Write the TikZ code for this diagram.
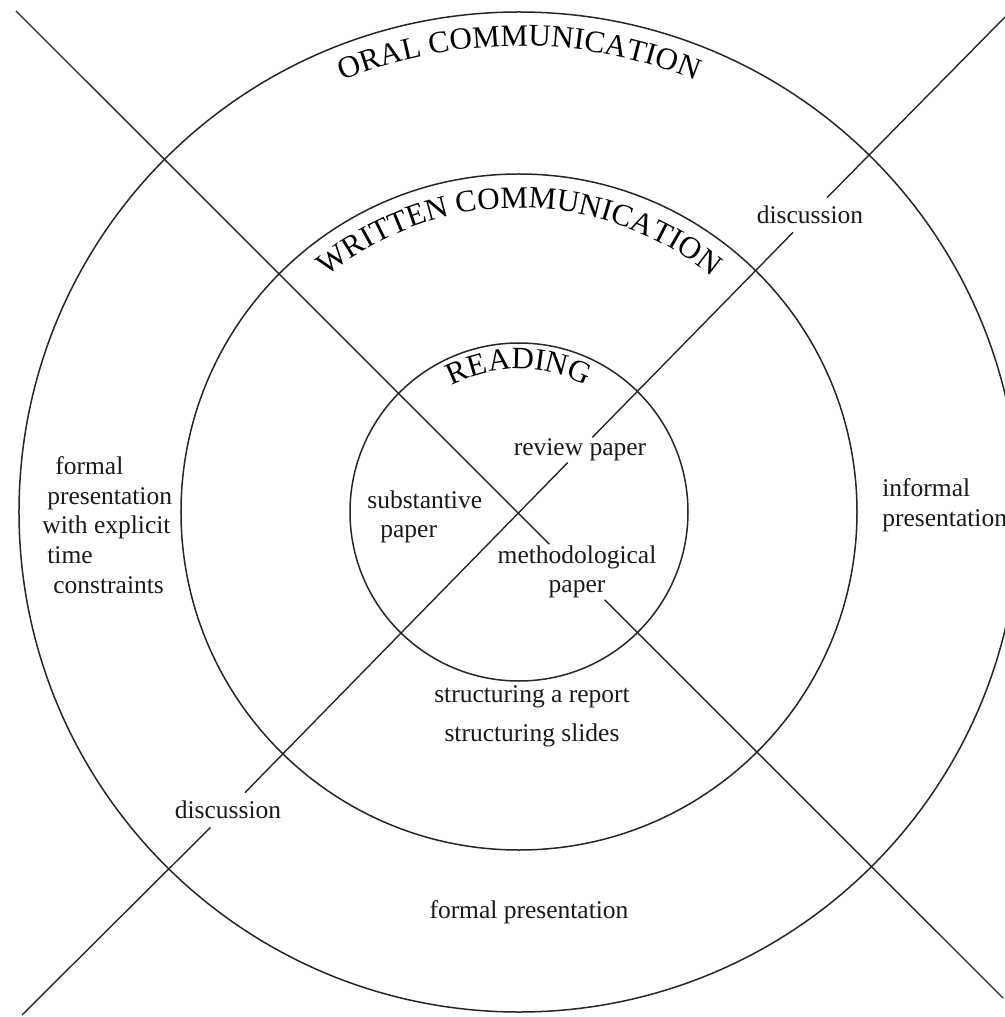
\documentclass[tikz,border=0pt]{standalone}
\usepackage{fontspec}
\setmainfont{Liberation Serif}
\usetikzlibrary{decorations.text}
\begin{document}
\begin{tikzpicture}[x=0.5pt,y=0.5pt,
  ring/.style={draw=black!85, line width=0.75pt},
  ray/.style={draw=black!85, line width=0.7pt},
  lbl/.style={font=\fontsize{12.75}{14.8}\selectfont, text=black!90},
  onray/.style={lbl, inner sep=0.5pt},
  disc/.style={lbl, inner xsep=2pt, inner ysep=4pt}
]
\useasboundingbox (-519,-505) rectangle (486,512);
\clip (-519,-505) rectangle (486,512);

% circles
\coordinate (c) at (0,0);
\draw[ring] (c) circle[radius=500];
\draw[ring] (c) circle[radius=338];
\draw[ring] (c) circle[radius=169];

% curved titles
\path[decorate, decoration={text along path, text align=center,
  text={|\fontsize{15.5}{18}\selectfont|ORAL COMMUNICATION}}]
  (150:466) arc[start angle=150, end angle=30, radius=466];
\path[decorate, decoration={text along path, text align=center,
  text={|\fontsize{15.5}{18}\selectfont|WRITTEN COMMUNICATION}}]
  (160:304) arc[start angle=160, end angle=20, radius=304];
\path[decorate, decoration={text along path, text align=center,
  text={|\fontsize{15.5}{18}\selectfont|READING}}]
  (170:143) arc[start angle=170, end angle=10, radius=143];

% end points of the two crossing lines
\coordinate (l1a) at (-503,501);
\coordinate (l1b) at (484,-486);
\coordinate (l2a) at (-497,-503);
\coordinate (l2b) at (486,495);

% labels lying on the lines
\node[onray] (rev) at (61,62) {review paper};
\node[onray, align=center] (meth) at (58,-60) {methodological\\paper};
\node[disc] (disc1) at (291,297) {discussion};
\node[disc] (disc2) at (-291,-298) {discussion};

% other labels
\node[lbl, align=left, anchor=west, inner sep=0pt] (subst) at (-152,-5)
  {substantive\\\hspace*{6.5pt}paper};
\node[lbl] (srep) at (13,-185) {structuring a report};
\node[lbl] (sslides) at (13,-223) {structuring slides};
\node[lbl] (fpres) at (10,-400) {formal presentation};
\node[lbl, align=left, anchor=west, inner sep=0pt] (fpt) at (-477,-13)
  {\hspace*{6.5pt}formal\\\hspace*{2.5pt}presentation\\with explicit\\\hspace*{2.5pt}time\\\hspace*{5.5pt}constraints};
\node[lbl, align=left, anchor=west, inner sep=0pt] (ipres) at (363,7)
  {informal\\presentation};

% crossing lines, broken by the labels on them
\draw[ray] (l1a) -- (meth);
\draw[ray] (meth) -- (l1b);
\draw[ray] (l2a) -- (disc2);
\draw[ray] (disc2) -- (rev);
\draw[ray] (rev) -- (disc1);
\draw[ray] (disc1) -- (l2b);
\end{tikzpicture}
\end{document}
